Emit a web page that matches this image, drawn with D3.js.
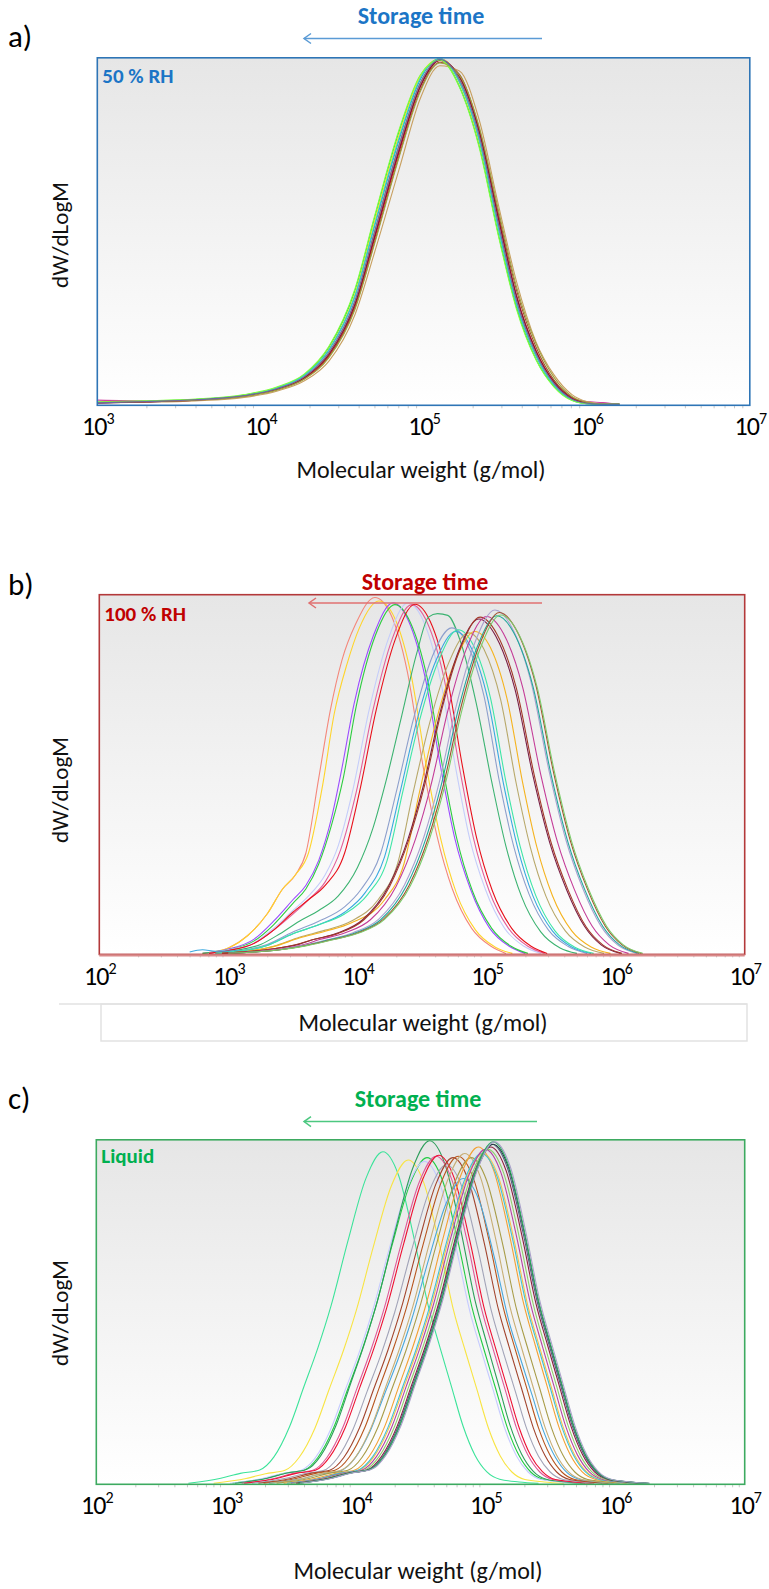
<!DOCTYPE html>
<html><head><meta charset="utf-8">
<script src="https://cdn.jsdelivr.net/npm/d3@7"></script>
<style>
body{margin:0;background:#fff}
svg{display:block}
text{font-family:Carlito,Lato,"Open Sans",sans-serif}
</style>
</head><body>
<svg id="chart" width="769" height="1589"></svg>
<script>
// ---------------- DATA ----------------
// Tick exponents of the log x axes
const ticksA = [3, 4, 5, 6, 7];
const ticksB = [2, 3, 4, 5, 6, 7];
const ticksC = [2, 3, 4, 5, 6, 7];

// Panel a) 50 % RH : shared log10(M) grid and dW/dLogM values (relative, 100 = top)
const logMA = [3.0,3.3,3.6,3.9,4.1,4.27,4.42,4.58,4.7,4.85,4.98,5.1,5.22,5.34,5.46,5.57,5.69,5.8,5.91,6.0,6.1,6.2];
const colorsA = ["#22dd33","#f5e020","#d040a0","#e8101a","#9040e0","#3a60d0","#10a0a0","#9a5a2a",
                 "#c8a060","#b8b8f0","#ffa020","#30d0d0","#8b1030","#80ff40","#a0a040","#6a6aa0"];
const valuesA = [
 [0.6,0.9,1.4,2.7,4.8,8.6,16.5,33,54,79,95,99.8,92,75,49,28,13,5.2,1.2,0.2,0,0],
 [0.5,0.8,1.3,2.6,4.7,8.4,16,32,53,78,95,100,93,76,51,29,14,5.8,1.4,0.3,0,0],
 [1.2,1.0,1.3,2.4,4.4,7.8,14.6,29.5,49,74,92.5,99.6,94.2,78.5,52.5,30.5,15,6.2,1.8,0.8,0.5,0],
 [0.5,0.8,1.3,2.4,4.3,7.6,14,28.5,48,73,92,99.5,95,79.5,54,31.5,15.5,6.5,1.8,0.4,0,0],
 [0.4,0.8,1.3,2.5,4.5,8,15,30,50,75,93,99.7,94,78,52,30,14.6,6,1.5,0.3,0,0],
 [0.4,0.7,1.2,2.4,4.4,7.9,14.8,29.5,49.5,74.5,92.5,99.8,94.5,78.5,53,31,15,6.2,1.6,0.3,0,0],
 [0.5,0.8,1.3,2.6,4.6,8.3,15.6,31,51.5,76.5,94,100,93.5,77,51,29,14,5.6,1.4,0.3,0,0],
 [0.5,0.8,1.2,2.3,4.2,7.4,13.8,28,47,72,91,99,95.5,80,55,33,16.5,7,2,0.5,0,0],
 [0.4,0.6,1.0,2.0,3.8,6.8,12.5,26,44,68,88.5,98,96.5,82.5,57.5,35.5,18,8.5,2.8,0.8,0.1,0],
 [0.5,0.8,1.3,2.5,4.5,8.1,15.2,30.5,50.5,75.5,93.2,99.9,93.8,77.6,51.5,29.6,14.3,5.8,1.4,0.3,0,0],
 [0.5,0.8,1.3,2.5,4.4,7.9,14.9,29.8,49.8,74.8,92.8,100,94.2,78.2,52.4,30.3,14.8,6.1,1.6,0.3,0,0],
 [0.6,0.9,1.4,2.6,4.7,8.4,15.8,31.5,52,77,94.3,100,93.2,76.6,50.6,29,14,5.5,1.3,0.2,0,0],
 [0.4,0.7,1.2,2.4,4.3,7.7,14.4,29,48.5,73.5,92,99.6,94.8,79,53.5,31.2,15.3,6.4,1.7,0.4,0,0],
 [0.7,1.0,1.5,2.8,5,8.8,16.8,33.5,54.5,79.5,95.3,99.7,91.8,74.5,48.5,27.5,12.8,5,1.1,0.2,0,0],
 [0.5,0.8,1.2,2.3,4.1,7.3,13.5,27.5,46.5,71.5,90.5,98.8,95.2,80.5,56,34,17.5,7.8,2.3,0.6,0.1,0],
 [0.4,0.8,1.3,2.5,4.5,8,15,30,50,75,93,99.8,94,78,52,30,14.6,6,1.5,0.3,0,0]
];

// Panel b) 100 % RH : each curve as [log10(M), dW/dLogM] points
const colorsB = ["#f4877a","#ffd42a","#9b4dff","#2ecc40","#c5cdfa","#e2609b","#e8101a","#3cb371","#8d9fcc","#3aa8e0",
                 "#3ee6a6","#b8a86a","#f5b31f","#7b1f45","#a33a2a","#c43c98","#aaa2d0","#22a89c","#a0522d","#7ccc6c"];
const curvesB = [
 [[2.85,0],[3.0,1.5],[3.15,5],[3.3,11],[3.42,18],[3.52,22],[3.6,28],[3.7,49],[3.79,68],[3.88,82],[3.985,92],[4.135,99.5],[4.255,95],[4.385,79],[4.505,53],[4.615,33],[4.735,18],[4.885,7],[5.035,2],[5.15,0]],
 [[2.8,0],[3.0,1.5],[3.15,5],[3.3,11],[3.42,18],[3.52,22],[3.62,28],[3.73,47],[3.82,67],[3.92,81],[4.015,91],[4.165,98.5],[4.285,94],[4.415,78],[4.535,52],[4.645,32],[4.765,17],[4.915,6.5],[5.065,1.8],[5.2,0]],
 [[2.8,0],[3.0,1.2],[3.2,4],[3.35,9],[3.5,15],[3.6,19],[3.7,26],[3.8,38],[3.87,50],[3.975,70],[4.125,89],[4.275,98],[4.395,93],[4.525,77],[4.645,52],[4.755,32],[4.875,18],[5.025,7],[5.175,2],[5.3,0]],
 [[2.8,0],[3.0,1],[3.2,3.5],[3.35,8],[3.5,14],[3.6,18],[3.7,25],[3.8,36],[3.89,49],[3.99,69],[4.14,89],[4.29,97.5],[4.41,92.5],[4.54,77],[4.66,52],[4.77,32],[4.89,17.5],[5.04,7],[5.19,2],[5.32,0]],
 [[2.85,0],[3.0,1],[3.2,3],[3.35,7],[3.5,12],[3.62,16],[3.75,22],[3.85,30],[3.96,45],[4.09,68],[4.24,88],[4.39,98],[4.51,93],[4.64,77],[4.76,52],[4.87,32],[4.99,18],[5.14,7],[5.29,2],[5.42,0]],
 [[2.85,0],[3.0,0.8],[3.2,2.8],[3.35,6.5],[3.5,11],[3.62,15],[3.75,20],[3.87,29],[3.99,45],[4.12,68],[4.27,88],[4.42,97.5],[4.54,92.5],[4.67,77],[4.79,52],[4.9,32],[5.02,17.5],[5.17,7],[5.32,2],[5.45,0]],
 [[2.85,0],[3.0,0.8],[3.2,2.8],[3.35,6.5],[3.5,11.5],[3.62,15],[3.75,19],[3.9,28],[4.015,45],[4.145,68],[4.295,88],[4.445,97.6],[4.565,92.7],[4.695,77],[4.815,52],[4.925,32],[5.045,17.5],[5.195,7],[5.345,2],[5.47,0]],
 [[2.9,0],[3.05,0.8],[3.25,2.5],[3.4,5.5],[3.55,9],[3.7,12],[3.85,16],[4.0,24],[4.12,35],[4.22,48],[4.34,66],[4.46,84],[4.55,94],[4.62,95],[4.70,94.5],[4.8,87],[4.92,70],[5.04,48],[5.15,30],[5.27,16],[5.42,6],[5.57,1.5],[5.7,0]],
 [[2.9,0],[3.1,0.8],[3.3,2.5],[3.5,6],[3.7,9],[3.9,13],[4.03,18],[4.18,28],[4.3,45],[4.43,65],[4.58,83],[4.73,91],[4.85,86.5],[4.98,72],[5.1,48],[5.21,30],[5.33,16.5],[5.48,6.5],[5.63,2],[5.78,0]],
 [[2.7,0.4],[2.8,1],[2.9,0.6],[3.1,0.7],[3.3,2.2],[3.5,5.5],[3.7,8],[3.9,11.5],[4.06,17],[4.21,27],[4.33,45],[4.46,65],[4.61,82],[4.76,90],[4.88,85.5],[5.01,71],[5.13,47.7],[5.24,29.7],[5.36,16],[5.51,6.3],[5.66,1.8],[5.81,0]],
 [[2.9,0],[3.1,0.7],[3.3,2.2],[3.5,5.5],[3.7,8],[3.9,11],[4.08,16.5],[4.23,26],[4.35,45],[4.48,65],[4.63,82],[4.78,90.5],[4.9,86],[5.03,71.5],[5.15,48],[5.26,30],[5.38,16.3],[5.53,6.3],[5.68,1.8],[5.83,0]],
 [[2.95,0],[3.15,0.6],[3.35,2],[3.55,4.5],[3.75,6.5],[3.95,9],[4.16,15],[4.31,25],[4.43,44.8],[4.56,64.5],[4.71,81.5],[4.86,89.6],[4.98,85],[5.11,70.8],[5.23,47.5],[5.34,29.6],[5.46,16],[5.61,6.3],[5.76,1.8],[5.91,0]],
 [[2.95,0],[3.15,0.6],[3.35,1.9],[3.55,4.3],[3.75,6.2],[3.95,8.5],[4.21,15],[4.36,25],[4.48,45],[4.61,65],[4.76,82],[4.91,90],[5.03,85.5],[5.16,71],[5.28,47.7],[5.39,29.7],[5.51,16.2],[5.66,6.3],[5.81,1.8],[5.96,0]],
 [[2.95,0],[3.15,0.5],[3.35,1.3],[3.55,2.6],[3.64,3.7],[3.84,5.6],[4.04,9.4],[4.24,18.7],[4.39,31.8],[4.51,46.8],[4.64,67.3],[4.79,85.1],[4.94,93.5],[5.07,88.8],[5.22,73.9],[5.36,49.6],[5.49,30.9],[5.62,17.8],[5.76,7.5],[5.89,2.3],[6.04,0]],
 [[2.95,0],[3.15,0.5],[3.35,1.3],[3.55,2.7],[3.65,3.8],[3.85,5.6],[4.05,9.4],[4.25,18.8],[4.4,32],[4.52,47],[4.65,67.7],[4.8,85.5],[4.95,94],[5.08,89.3],[5.23,74.3],[5.37,49.8],[5.5,31],[5.63,17.9],[5.77,7.5],[5.9,2.4],[6.05,0]],
 [[3.0,0],[3.2,0.5],[3.4,1.2],[3.6,2.6],[3.7,3.8],[3.9,5.7],[4.1,9.4],[4.3,18.8],[4.45,32],[4.57,47.1],[4.7,67.8],[4.85,85.7],[5.0,94.2],[5.13,89.5],[5.28,74.4],[5.42,50],[5.55,31.1],[5.68,17.9],[5.82,7.5],[5.95,2.4],[6.1,0]],
 [[3.0,0],[3.2,0.4],[3.4,1.1],[3.6,2.4],[3.765,3.8],[3.965,5.8],[4.165,9.6],[4.365,19.2],[4.515,32.6],[4.635,48],[4.765,69.1],[4.915,87.4],[5.065,96],[5.195,91.2],[5.345,75.8],[5.485,50.9],[5.615,31.7],[5.745,18.2],[5.885,7.7],[6.015,2.4],[6.165,0]],
 [[3.0,0],[3.2,0.4],[3.4,1],[3.6,2.2],[3.78,3.8],[3.98,5.7],[4.18,9.4],[4.38,18.9],[4.53,32.1],[4.65,47.2],[4.78,68],[4.93,85.9],[5.08,94.4],[5.21,89.7],[5.36,74.6],[5.5,50],[5.63,31.2],[5.76,17.9],[5.9,7.6],[6.03,2.4],[6.18,0]],
 [[3.0,0],[3.2,0.4],[3.4,1],[3.6,2.2],[3.8,3.8],[4.0,5.7],[4.2,9.5],[4.4,19],[4.55,32.4],[4.67,47.7],[4.8,68.6],[4.95,86.7],[5.1,95.3],[5.23,90.5],[5.38,75.3],[5.52,50.5],[5.65,31.4],[5.78,18.1],[5.92,7.6],[6.05,2.4],[6.2,0]],
 [[3.0,0],[3.2,0.4],[3.4,1],[3.6,2.1],[3.81,3.8],[4.01,5.7],[4.21,9.5],[4.41,18.9],[4.56,32.2],[4.68,47.3],[4.81,68.1],[4.96,86.1],[5.11,94.6],[5.24,89.9],[5.39,74.7],[5.53,50.1],[5.66,31.2],[5.79,18],[5.93,7.6],[6.06,2.4],[6.21,0]]
];

// Panel c) Liquid : each curve has its own log10(M) list and dW/dLogM list
const colorsC = ["#3ce39a","#f8e443","#22cc44","#c5cbff","#2e9e5b","#de5a9a","#ee1133","#a2a4b8","#a2452e","#b8561e",
                 "#4aa8dc","#c8ae74","#a89c48","#f2a032","#f7c24a","#41c2d2","#b444a4","#8fd06e","#8e1b3e","#4f5f80",
                 "#1d3b3b","#2fb062","#a9a1c9"];
const logMC = [
 [2.71,2.96,3.11,3.26,3.37,3.49,3.6,3.71,3.81,3.94,4.08,4.21,4.33,4.45,4.56,4.65,4.74,4.83,4.92,5.01,5.11,5.26,5.41],
 [2.905,3.155,3.305,3.455,3.565,3.685,3.795,3.905,4.005,4.135,4.275,4.405,4.525,4.645,4.755,4.845,4.935,5.025,5.115,5.205,5.305,5.455,5.605],
 [3.05,3.3,3.45,3.6,3.71,3.83,3.94,4.05,4.15,4.28,4.42,4.55,4.67,4.79,4.9,4.99,5.08,5.17,5.26,5.35,5.45,5.6,5.75],
 [3.03,3.28,3.43,3.58,3.69,3.81,3.92,4.03,4.13,4.26,4.4,4.53,4.65,4.77,4.88,4.97,5.06,5.15,5.24,5.33,5.43,5.58,5.73],
 [3.07,3.32,3.47,3.62,3.73,3.85,3.96,4.07,4.17,4.3,4.44,4.57,4.69,4.81,4.92,5.01,5.1,5.19,5.28,5.37,5.47,5.62,5.77],
 [3.12,3.37,3.52,3.67,3.78,3.9,4.01,4.12,4.22,4.35,4.49,4.62,4.74,4.86,4.97,5.06,5.15,5.24,5.33,5.42,5.52,5.67,5.82],
 [3.14,3.39,3.54,3.69,3.8,3.92,4.03,4.14,4.24,4.37,4.51,4.64,4.76,4.88,4.99,5.08,5.17,5.26,5.35,5.44,5.54,5.69,5.84],
 [3.2,3.45,3.6,3.75,3.86,3.98,4.09,4.2,4.3,4.43,4.57,4.7,4.82,4.94,5.05,5.14,5.23,5.32,5.41,5.5,5.6,5.75,5.9],
 [3.25,3.5,3.65,3.8,3.91,4.03,4.14,4.25,4.35,4.48,4.62,4.75,4.87,4.99,5.1,5.19,5.28,5.37,5.46,5.55,5.65,5.8,5.95],
 [3.29,3.54,3.69,3.84,3.95,4.07,4.18,4.29,4.39,4.52,4.66,4.79,4.91,5.03,5.14,5.23,5.32,5.41,5.5,5.59,5.69,5.84,5.99],
 [3.33,3.58,3.73,3.88,3.99,4.11,4.22,4.33,4.43,4.56,4.7,4.83,4.95,5.07,5.18,5.27,5.36,5.45,5.54,5.63,5.73,5.88,6.03],
 [3.34,3.59,3.74,3.89,4.0,4.12,4.23,4.34,4.44,4.57,4.71,4.84,4.96,5.08,5.19,5.28,5.37,5.46,5.55,5.64,5.74,5.89,6.04],
 [3.39,3.64,3.79,3.94,4.05,4.17,4.28,4.39,4.49,4.62,4.76,4.89,5.01,5.13,5.24,5.33,5.42,5.51,5.6,5.69,5.79,5.94,6.09],
 [3.445,3.695,3.845,3.995,4.105,4.225,4.335,4.445,4.545,4.675,4.815,4.945,5.065,5.185,5.295,5.385,5.475,5.565,5.655,5.745,5.845,5.995,6.145],
 [3.48,3.73,3.88,4.03,4.14,4.26,4.37,4.48,4.58,4.71,4.85,4.98,5.1,5.22,5.33,5.42,5.51,5.6,5.69,5.78,5.88,6.03,6.18],
 [3.47,3.72,3.87,4.02,4.13,4.25,4.36,4.47,4.57,4.7,4.84,4.97,5.09,5.21,5.32,5.41,5.5,5.59,5.68,5.77,5.87,6.02,6.17],
 [3.5,3.75,3.9,4.05,4.16,4.28,4.39,4.5,4.6,4.73,4.87,5.0,5.12,5.24,5.35,5.44,5.53,5.62,5.71,5.8,5.9,6.05,6.2],
 [3.52,3.77,3.92,4.07,4.18,4.3,4.41,4.52,4.62,4.75,4.89,5.02,5.14,5.26,5.37,5.46,5.55,5.64,5.73,5.82,5.92,6.07,6.22],
 [3.54,3.79,3.94,4.09,4.2,4.32,4.43,4.54,4.64,4.77,4.91,5.04,5.16,5.28,5.39,5.48,5.57,5.66,5.75,5.84,5.94,6.09,6.24],
 [3.55,3.8,3.95,4.1,4.21,4.33,4.44,4.55,4.65,4.78,4.92,5.05,5.17,5.29,5.4,5.49,5.58,5.67,5.76,5.85,5.95,6.1,6.25],
 [3.56,3.81,3.96,4.11,4.22,4.34,4.45,4.56,4.66,4.79,4.93,5.06,5.18,5.3,5.41,5.5,5.59,5.68,5.77,5.86,5.96,6.11,6.26],
 [3.56,3.81,3.96,4.11,4.22,4.34,4.45,4.56,4.66,4.79,4.93,5.06,5.18,5.3,5.41,5.5,5.59,5.68,5.77,5.86,5.96,6.11,6.26],
 [3.57,3.82,3.97,4.12,4.23,4.35,4.46,4.57,4.67,4.8,4.94,5.07,5.19,5.31,5.42,5.51,5.6,5.69,5.78,5.87,5.97,6.12,6.27]
];
const valuesC = [
 [0,1.5,2.9,3.9,7.7,16.5,28.1,39.7,51.8,70.7,89.1,96.8,90,71.6,51.8,39.7,28.1,16.5,8.2,3.4,1.2,0.4,0],
 [0,1.4,2.8,3.8,7.6,16,27.4,38.7,50.5,68.9,86.8,94.4,87.8,69.9,50.5,38.7,27.4,16,8,3.3,1.1,0.4,0],
 [0,1.4,2.9,3.8,7.6,16.2,27.6,39,50.9,69.4,87.5,95.1,88.4,70.4,50.9,39,27.6,16.2,8.1,3.3,1.1,0.4,0],
 [0,1.4,2.8,3.8,7.5,16,27.3,38.5,50.3,68.6,86.5,94,87.4,69.6,50.3,38.5,27.3,16,8,3.3,1.1,0.4,0],
 [0,1.5,3,4,8,17,29,41,53.5,73,92,100,93,74,53.5,41,29,17,8.5,3.5,1.2,0.4,0],
 [0,1.4,2.9,3.8,7.6,16.2,27.7,39.2,51.1,69.7,87.9,95.5,88.8,70.7,51.1,39.2,27.7,16.2,8.1,3.3,1.1,0.4,0],
 [0,1.4,2.9,3.8,7.7,16.3,27.8,39.3,51.3,69.9,88.1,95.8,89.1,70.9,51.3,39.3,27.8,16.3,8.1,3.4,1.1,0.4,0],
 [0,1.4,2.8,3.7,7.4,15.8,27,38.1,49.8,67.9,85.6,93,86.5,68.8,49.8,38.1,27,15.8,7.9,3.3,1.1,0.4,0],
 [0,1.4,2.9,3.8,7.6,16.2,27.6,39,50.9,69.4,87.5,95.1,88.4,70.4,50.9,39,27.6,16.2,8.1,3.3,1.1,0.4,0],
 [0,1.4,2.9,3.8,7.6,16.2,27.7,39.2,51.1,69.7,87.9,95.5,88.8,70.7,51.1,39.2,27.7,16.2,8.1,3.3,1.1,0.4,0],
 [0,1.3,2.7,3.6,7.1,15.1,25.8,36.5,47.6,65,81.9,89,82.8,65.9,47.6,36.5,25.8,15.1,7.6,3.1,1.1,0.4,0],
 [0,1.4,2.9,3.9,7.7,16.4,27.9,39.5,51.5,70.3,88.6,96.3,89.6,71.3,51.5,39.5,27.9,16.4,8.2,3.4,1.2,0.4,0],
 [0,1.4,2.9,3.8,7.6,16.2,27.6,39,50.9,69.4,87.5,95.1,88.4,70.4,50.9,39,27.6,16.2,8.1,3.3,1.1,0.4,0],
 [0,1.5,2.9,3.9,7.9,16.7,28.5,40.3,52.5,71.7,90.3,98.2,91.3,72.7,52.5,40.3,28.5,16.7,8.3,3.4,1.2,0.4,0],
 [0,1.4,2.9,3.9,7.7,16.4,27.9,39.5,51.5,70.3,88.6,96.3,89.6,71.3,51.5,39.5,27.9,16.4,8.2,3.4,1.2,0.4,0],
 [0,1.4,2.9,3.9,7.7,16.4,27.9,39.5,51.5,70.3,88.6,96.3,89.6,71.3,51.5,39.5,27.9,16.4,8.2,3.4,1.2,0.4,0],
 [0,1.5,2.9,3.9,7.8,16.6,28.3,40,52.2,71.2,89.7,97.5,90.7,72.2,52.2,40,28.3,16.6,8.3,3.4,1.2,0.4,0],
 [0,1.5,2.9,3.9,7.8,16.6,28.3,40,52.2,71.2,89.7,97.5,90.7,72.2,52.2,40,28.3,16.6,8.3,3.4,1.2,0.4,0],
 [0,1.5,2.9,3.9,7.9,16.7,28.5,40.3,52.5,71.7,90.3,98.2,91.3,72.7,52.5,40.3,28.5,16.7,8.3,3.4,1.2,0.4,0],
 [0,1.5,3,4,7.9,16.8,28.7,40.6,53,72.3,91.1,99,92.1,73.3,53,40.6,28.7,16.8,8.4,3.5,1.2,0.4,0],
 [0,1.5,3,4,7.9,16.8,28.7,40.6,53,72.3,91.1,99,92.1,73.3,53,40.6,28.7,16.8,8.4,3.5,1.2,0.4,0],
 [0,1.5,3,4,8,16.9,28.9,40.9,53.3,72.8,91.7,99.7,92.7,73.8,53.3,40.9,28.9,16.9,8.5,3.5,1.2,0.4,0],
 [0,1.5,3,4,8,16.9,28.9,40.9,53.3,72.8,91.7,99.7,92.7,73.8,53.3,40.9,28.9,16.9,8.5,3.5,1.2,0.4,0]
];

// ---------------- DRAWING ----------------
const svg = d3.select("#chart");
svg.append("rect").attr("width", 769).attr("height", 1589).attr("fill", "#fff");
const defs = svg.append("defs");

function drawPanel(cfg) {
  const id = cfg.id;
  const grad = defs.append("linearGradient").attr("id", "g" + id)
    .attr("x1", 0).attr("y1", 0).attr("x2", 0).attr("y2", 1);
  grad.append("stop").attr("offset", "0%").attr("stop-color", "#e6e6e6");
  grad.append("stop").attr("offset", "100%").attr("stop-color", "#ffffff");
  defs.append("clipPath").attr("id", "c" + id).append("rect")
    .attr("x", cfg.x0).attr("y", cfg.y0 - 2).attr("width", cfg.x1 - cfg.x0).attr("height", cfg.y1 - cfg.y0 + 2);

  const x = d3.scaleLog().domain([Math.pow(10, cfg.ticks[0]), Math.pow(10, cfg.ticks[cfg.ticks.length - 1])])
    .range([cfg.x0, cfg.x1]);
  const y = d3.scaleLinear().domain([0, 100]).range([cfg.y1 - 1, cfg.y0 + 1]);

  const g = svg.append("g");
  g.append("rect").attr("x", cfg.x0).attr("y", cfg.y0).attr("width", cfg.x1 - cfg.x0)
    .attr("height", cfg.y1 - cfg.y0).attr("fill", "url(#g" + id + ")");

  // minor ticks
  const minor = [];
  for (let e = cfg.ticks[0]; e < cfg.ticks[cfg.ticks.length - 1]; e++)
    for (let m = 2; m <= 9; m++) minor.push(m * Math.pow(10, e));
  const gm = g.append("g").attr("transform", `translate(0,${cfg.y1})`)
    .call(d3.axisBottom(x).tickValues(minor).tickSize(3).tickFormat(""));
  gm.select(".domain").remove();
  gm.selectAll(".tick line").attr("stroke", "#c8c8c8");

  // curves
  const line = d3.line().x(d => x(Math.pow(10, d[0]))).y(d => y(d[1])).curve(d3.curveMonotoneX);
  g.append("g").attr("clip-path", "url(#c" + id + ")")
    .selectAll("path").data(cfg.curves).join("path")
    .attr("d", d => line(d.pts)).attr("fill", "none")
    .attr("stroke", d => d.color).attr("stroke-width", 1.1);

  // border
  g.append("rect").attr("x", cfg.x0).attr("y", cfg.y0).attr("width", cfg.x1 - cfg.x0)
    .attr("height", cfg.y1 - cfg.y0).attr("fill", "none").attr("stroke", cfg.border).attr("stroke-width", 1.6);
  if (cfg.bottomExtra) {
    g.append("line").attr("x1", cfg.x0).attr("x2", cfg.x1).attr("y1", cfg.y1 + 1).attr("y2", cfg.y1 + 1)
      .attr("stroke", cfg.bottomExtra).attr("stroke-width", 2.2);
  }

  // major tick labels
  const ga = g.append("g").attr("transform", `translate(0,${cfg.labelY})`)
    .call(d3.axisBottom(x).tickValues(cfg.ticks.map(e => Math.pow(10, e))).tickSize(0).tickPadding(0)
      .tickFormat(d => "10"));
  ga.select(".domain").remove();
  ga.selectAll(".tick text").each(function (d) {
    const t = d3.select(this);
    const e = Math.round(Math.log10(d));
    t.text(null).attr("dy", 0).attr("y", 0).attr("fill", "#000").attr("font-size", 26)
      .attr("font-family", "Carlito,Lato,sans-serif").attr("letter-spacing", -1);
    t.append("tspan").text("10");
    t.append("tspan").attr("dy", -11).attr("font-size", 16).text(e);
  });

  // texts
  svg.append("text").attr("x", 8).attr("y", cfg.letterY).attr("font-size", 31).attr("fill", "#000").text(cfg.letter);
  svg.append("text").attr("x", cfg.stX).attr("y", cfg.stY).attr("text-anchor", "middle")
    .attr("font-size", 24).attr("font-weight", "bold").attr("fill", cfg.textColor).text("Storage time");
  svg.append("line").attr("x1", cfg.arX1).attr("x2", cfg.arX0).attr("y1", cfg.arY).attr("y2", cfg.arY)
    .attr("stroke", cfg.arrowColor).attr("stroke-width", 1.5);
  svg.append("path").attr("d", `M${cfg.arX0 + 7},${cfg.arY - 5}L${cfg.arX0},${cfg.arY}L${cfg.arX0 + 7},${cfg.arY + 5}`)
    .attr("fill", "none").attr("stroke", cfg.arrowColor).attr("stroke-width", 1.5);
  svg.append("text").attr("x", cfg.x0 + 5).attr("y", cfg.tagY).attr("font-size", 21).attr("font-weight", "bold")
    .attr("fill", cfg.textColor).text(cfg.tag);
  svg.append("text").attr("transform", `translate(${cfg.ylX},${cfg.ylY}) rotate(-90)`).attr("text-anchor", "middle")
    .attr("font-size", 23).attr("fill", "#111").text("dW/dLogM");
  svg.append("text").attr("x", cfg.xtX).attr("y", cfg.xtY).attr("text-anchor", "middle")
    .attr("font-size", 24).attr("fill", "#111").text("Molecular weight (g/mol)");
}

const curvesDataA = valuesA.map((vals, i) => ({ color: colorsA[i], pts: logMA.map((m, j) => [m, vals[j]]) }));
const curvesDataB = curvesB.map((pts, i) => ({ color: colorsB[i], pts: pts }));
const curvesDataC = logMC.map((ms, i) => ({ color: colorsC[i], pts: ms.map((m, j) => [m, valuesC[i][j]]) }));

// panel b title frame (behind its label)
svg.append("line").attr("x1", 59).attr("x2", 747).attr("y1", 1004).attr("y2", 1004).attr("stroke", "#e2e2e2").attr("stroke-width", 1.5);
svg.append("rect").attr("x", 101).attr("y", 1004).attr("width", 646).attr("height", 37)
  .attr("fill", "none").attr("stroke", "#e2e2e2").attr("stroke-width", 1.5);

drawPanel({ id: "a", ticks: ticksA, curves: curvesDataA, x0: 97.3, x1: 749.8, y0: 57.8, y1: 405.3,
  border: "#2e75b6", textColor: "#1b75c6", arrowColor: "#5b9bd5", letter: "a)", letterY: 47,
  stX: 421, stY: 24, arX0: 304, arX1: 542, arY: 38.5, tag: "50 % RH", tagY: 83,
  labelY: 435, ylX: 68, ylY: 235, xtX: 421, xtY: 478 });

drawPanel({ id: "b", ticks: ticksB, curves: curvesDataB, x0: 99.3, x1: 744.7, y0: 594.7, y1: 954.4,
  border: "#b3393a", bottomExtra: "#d98a8a", textColor: "#c00000", arrowColor: "#e07070", letter: "b)", letterY: 595,
  stX: 425, stY: 590, arX0: 309, arX1: 542, arY: 603, tag: "100 % RH", tagY: 621,
  labelY: 985, ylX: 68, ylY: 790, xtX: 423, xtY: 1031 });

drawPanel({ id: "c", ticks: ticksC, curves: curvesDataC, x0: 96.3, x1: 744.7, y0: 1139.8, y1: 1484.3,
  border: "#3daa60", textColor: "#00b050", arrowColor: "#4cc880", letter: "c)", letterY: 1109,
  stX: 418, stY: 1107, arX0: 304, arX1: 537, arY: 1121.6, tag: "Liquid", tagY: 1163,
  labelY: 1514, ylX: 68, ylY: 1313, xtX: 418, xtY: 1579 });
</script>
</body></html>
